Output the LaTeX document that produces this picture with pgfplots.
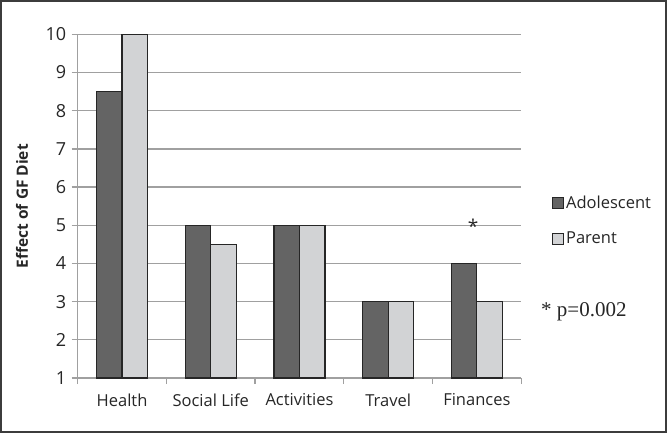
\documentclass[border=0pt]{standalone}
\usepackage{pgfplots}
\pgfplotsset{compat=1.18}
\usepackage{fontspec}
\setmainfont{Open Sans}
\newfontfamily\seriffont{Liberation Serif}
\definecolor{adol}{RGB}{100,100,100}
\definecolor{par}{RGB}{210,211,213}
\definecolor{gridc}{RGB}{160,160,160}
\definecolor{framec}{RGB}{60,60,60}
\begin{document}
\begin{tikzpicture}
\useasboundingbox (-77.7pt,-56pt) rectangle (591.3pt,378pt);
\begin{axis}[
 at={(0pt,0pt)}, anchor=south west,
 width=443.5pt, height=343.7pt, scale only axis,
 xmin=-0.5, xmax=4.5, ymin=1, ymax=10,
 ybar=0pt, bar width=25.5pt,
 axis lines*=left,
 axis line style={gridc, line width=1.3pt},
 xtick={-0.5,0.5,1.5,2.5,3.5,4.5},
 xticklabels={Health,Social Life,Activities,Travel,Finances},
 x tick label as interval,
 ytick={1,2,3,4,5,6,7,8,9,10},
 major tick length=6pt,
 tick align=outside,
 tick style={gridc, line width=1.3pt},
 ymajorgrids, grid style={gridc, line width=1.3pt},
 /pgf/number format/assume math mode=true,
 tick label style={font=\fontsize{16.5}{19}\selectfont, text=black!85},
 yticklabel style={font=\fontsize{18}{21}\selectfont, xshift=-2pt},
 xticklabel style={yshift=-6pt},
 ylabel={\bfseries Effect of GF Diet},
 ylabel style={font=\fontsize{15.5}{18}\selectfont, at={(axis description cs:-0.1256,0.5)}, anchor=center, text=black!85},
 legend style={at={(1.0695,0.458)}, anchor=west, draw=none, fill=none, inner sep=0pt,
   font=\fontsize{16.5}{19}\selectfont, row sep=18pt, text=black!85},
 legend cell align=left,
 legend image code/.code={\draw[#1, line width=0.9pt] (0pt,-5.5pt) rectangle (11pt,5.5pt);},
 clip=false,
]
\addplot[fill=adol, draw=black!85, line width=1.1pt] coordinates {(0,8.5) (1,5) (2,5) (3,3) (4,4)};
\addplot[fill=par, draw=black!85, line width=1.1pt] coordinates {(0,10) (1,4.5) (2,5) (3,3) (4,3)};
\legend{Adolescent,Parent}
\node[font=\fontsize{19}{21}\selectfont, text=black!85] at (axis cs:3.957,4.98) {*};
\end{axis}
\node[anchor=base west, inner sep=0pt, font=\seriffont\fontsize{21}{24}\selectfont, text=black!85] at (463.3pt,62pt) {* p=0.002};
\draw[framec, line width=2.2pt] (-76.6pt,-54pt) rectangle (588.3pt,376.6pt);
\end{tikzpicture}
\end{document}
